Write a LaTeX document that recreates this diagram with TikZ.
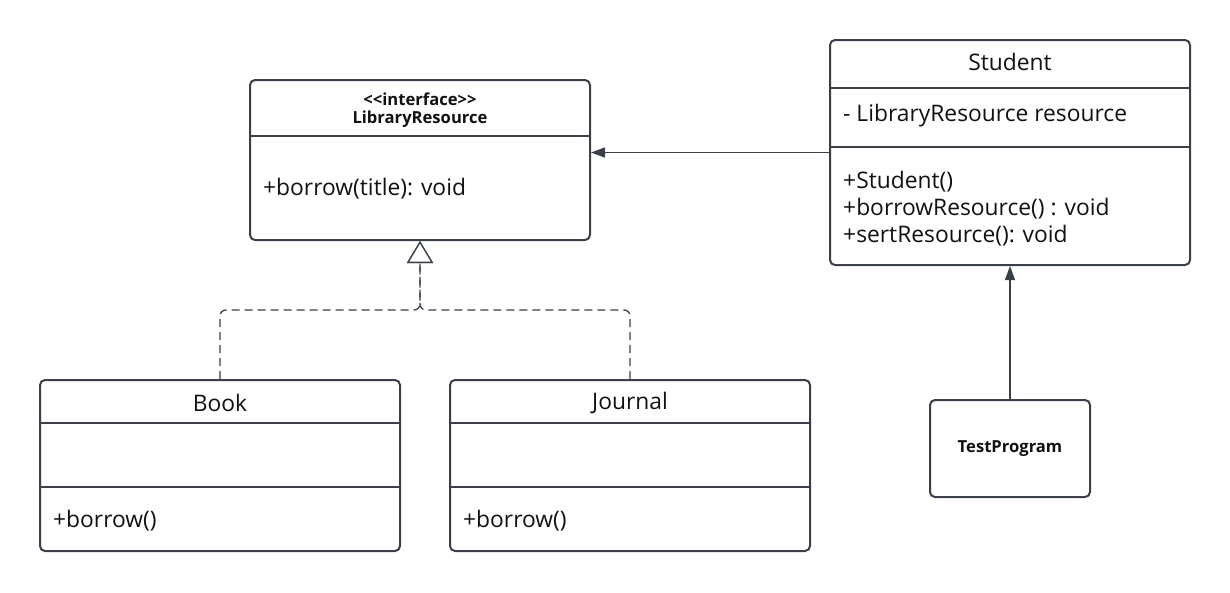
\documentclass[tikz,border=0pt]{standalone}
\usepackage{fontspec}
\setmainfont{Open Sans}
\usetikzlibrary{arrows.meta,calc}
\definecolor{edge}{HTML}{3A3F4A}
\definecolor{ink}{HTML}{111111}
\tikzset{
  umlbox/.style={draw=edge, line width=2pt, rounded corners=5pt, fill=white, inner sep=0pt},
  divider/.style={draw=edge, line width=2pt},
  txt/.style={text=ink, inner sep=0pt, font=\fontsize{22.8}{27}\selectfont},
  ltxt/.style={txt, anchor=west},
  btxt/.style={text=ink, inner sep=0pt, font=\bfseries\fontsize{16.6}{20}\selectfont},
  assoc/.style={draw=edge, line width=1.3pt, -{Triangle[length=14pt,width=10pt]}},
  real/.style={draw=edge, line width=1.3pt, dash pattern=on 8pt off 5pt, rounded corners=6pt,
    -{Triangle[open,length=22pt,width=26pt,fill=white,line width=1.3pt]}}
}
\begin{document}
\begin{tikzpicture}[x=1pt,y=-1pt]
\useasboundingbox (0,0) rectangle (1230,592);
% boxes
\node[umlbox, minimum width=340pt, minimum height=160pt] (lib) at (420,160) {};
\node[umlbox, minimum width=360pt, minimum height=225pt] (stu) at (1010,152.5) {};
\node[umlbox, minimum width=360pt, minimum height=171pt] (book) at (220,465.5) {};
\node[umlbox, minimum width=360pt, minimum height=171pt] (jour) at (630,465.5) {};
\node[umlbox, minimum width=160pt, minimum height=97pt] (test) at (1010,448.5) {};
% dividers
\draw[divider] (lib.west |- 0,136) -- (lib.east |- 0,136);
\draw[divider] (stu.west |- 0,88) -- (stu.east |- 0,88);
\draw[divider] (stu.west |- 0,147) -- (stu.east |- 0,147);
\draw[divider] (book.west |- 0,423) -- (book.east |- 0,423);
\draw[divider] (book.west |- 0,487) -- (book.east |- 0,487);
\draw[divider] (jour.west |- 0,423) -- (jour.east |- 0,423);
\draw[divider] (jour.west |- 0,487) -- (jour.east |- 0,487);
% texts
\node[btxt] (libst) at (420,99) {{<}{<}interface{>}{>}};
\node[btxt] (libname) at (420,119) {LibraryResource};
\node[ltxt] (libm) at (263,189) {+borrow(title): void};
\node[txt] (stuname) at (1010,62) {Student};
\node[ltxt] (stua) at (843,116) {- LibraryResource resource};
\node[ltxt] (stum1) at (843,182) {+Student()};
\node[ltxt] (stum2) at (843,209) {+borrowResource() : void};
\node[ltxt] (stum3) at (843,236) {+sertResource(): void};
\node[txt] (bookname) at (220,403) {Book};
\node[ltxt] (bookm) at (53,521) {+borrow()};
\node[txt] (journame) at (630,403) {Journal};
\node[ltxt] (jourm) at (463,521) {+borrow()};
\node[btxt] (testname) at (1010,449) {TestProgram};
% connectors
\draw[assoc] (stu.west) -- (stu.west -| lib.east);
\draw[assoc] (test.north) -- (stu.south);
\coordinate (junc) at (420,310);
\draw[real] (book.north) |- (junc) -- (lib.south);
\draw[real] (jour.north) |- (junc) -- (lib.south);
\end{tikzpicture}
\end{document}
